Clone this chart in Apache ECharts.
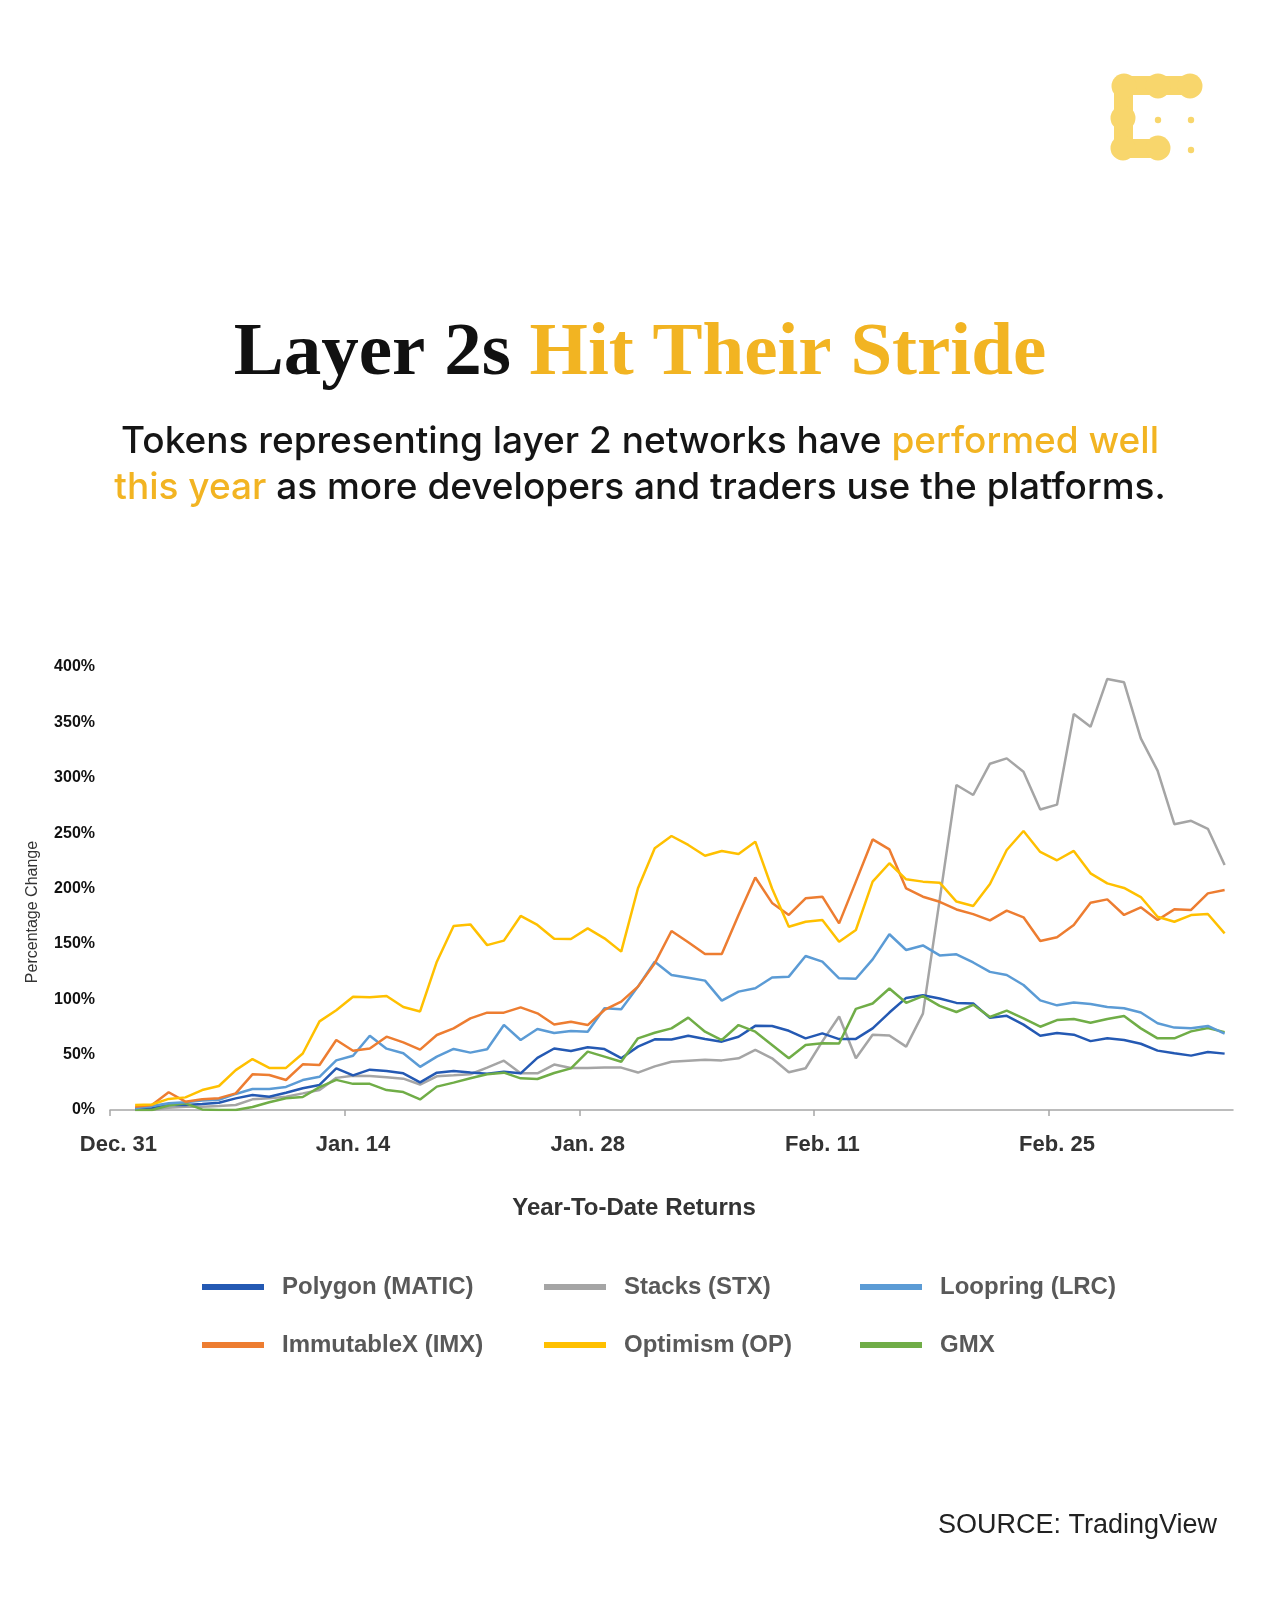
<!DOCTYPE html>
<html><head><meta charset="utf-8">
<script src="https://cdn.jsdelivr.net/npm/echarts@6/dist/echarts.min.js"></script>
<style>html,body{margin:0;padding:0;background:#fff}#c{width:1280px;height:1600px}</style>
</head><body><div id="c"></div>
<script>
const categories = ['Dec. 31',
 'Jan. 1','Jan. 2','Jan. 3','Jan. 4','Jan. 5','Jan. 6','Jan. 7','Jan. 8','Jan. 9','Jan. 10',
 'Jan. 11','Jan. 12','Jan. 13','Jan. 14','Jan. 15','Jan. 16','Jan. 17','Jan. 18','Jan. 19','Jan. 20',
 'Jan. 21','Jan. 22','Jan. 23','Jan. 24','Jan. 25','Jan. 26','Jan. 27','Jan. 28','Jan. 29','Jan. 30','Jan. 31',
 'Feb. 1','Feb. 2','Feb. 3','Feb. 4','Feb. 5','Feb. 6','Feb. 7','Feb. 8','Feb. 9','Feb. 10',
 'Feb. 11','Feb. 12','Feb. 13','Feb. 14','Feb. 15','Feb. 16','Feb. 17','Feb. 18','Feb. 19','Feb. 20',
 'Feb. 21','Feb. 22','Feb. 23','Feb. 24','Feb. 25','Feb. 26','Feb. 27','Feb. 28',
 'Mar. 1','Mar. 2','Mar. 3','Mar. 4','Mar. 5','Mar. 6','Mar. 7'];
const tickLabels = ['Dec. 31','Jan. 14','Jan. 28','Feb. 11','Feb. 25'];
const seriesNames = ['Polygon (MATIC)','Stacks (STX)','Loopring (LRC)','ImmutableX (IMX)','Optimism (OP)','GMX'];

const polygonMATIC = [null, 0.6,1.5,4.5,4.5,5.4,6.6,10.5,13.5,12,15.6, 19.6,22.6,37.6,31.3,36.4,35.3,33.1,25,33.7,35.3,
 33.8,32.7,34.6,33.1,47,55.5,53.2,56.6,55,46.8, 57.2,63.8,63.6,67,64.2,61.7,66.2,76,75.8,71.5,
 64.7,69.2,64,64.2,73.7,88,101.2,103.7,100.7,96.7, 96.2,83.2,85,77.1,67,69.5,68,62.2,64.7,63.2,
 59.8,53.6,51.2,49.1,52.4,50.9];
const stacksSTX = [null, 0,0,2.1,3,3,3.6,4.5,9.6,10.5,12, 15,18.1,29,31,30.7,29.5,28.3,23,30.4,31.3,
 32.3,38.3,44.5,33.1,33.1,41,38,38,38.3,38.3, 33.8,39.4,43.6,44.5,45.4,44.8,46.7,54.2,46.7,34.1,
 37.7,62,84.4,46.7,68,67.2,57.2,87,190,293.5, 284.4,312.7,317.5,305.5,271.3,275.7,357.6,346,389.2,386.2,
 335.6,306.5,258.1,261.1,253.9,221.2];
const loopringLRC = [null, 1.5,3.7,6,7,8.5,9.3,14.5,19,19,20.8, 27,30,44.8,49,67.1,55.4,51.2,39,48.2,55.1,
 51.8,54.8,76.8,63.2,73.1,69.5,71.3,70.7,91.8,90.9, 111.4,133.9,121.9,119.5,116.8,98.8,106.9,109.9,119.6,120.4,
 139.1,134,118.9,118.5,136,158.7,144.5,148.6,139.6,140.6, 133.2,124.7,121.9,112.9,99,94.5,97,95.8,93,91.9,
 88,78.3,74.4,73.8,75.9,69];
const immutableIMX = [null, 3,4.5,16,7.5,9.7,10.7,15,32.2,31.6,27.1, 41.2,40.6,63.2,53.5,55.5,66.2,61,54.5,67.7,73.7,
 82.7,87.9,87.9,92.7,87.3,77.2,79.7,76.7,90.3,97.8, 111.4,132.4,161.6,151.4,140.9,140.9,176,209.9,187,176.1,
 191.1,192.6,168.5,206.2,244.3,235.3,200.1,192.6,188,181.1, 176.9,171.2,180,174,152.6,155.9,167,187.2,190.2,176.1,
 183,171.6,181.2,180.6,195.6,198.6];
const optimismOP = [null, 4.5,5,10,11.4,18,21.7,36,46,38,38, 51,80,90,102.2,101.7,103,93,89,133.9,166.1,
 167.6,148.9,152.9,175.2,167.1,154.6,154.4,164,155,143, 200.2,236.3,247.4,239.3,229.6,233.9,231.2,242.3,200,165.5,
 170,171.5,152,162.5,206.2,222.8,208.3,206.2,205.3,188.2, 184.2,204,234.8,251.9,233,225.5,233.9,213.7,204.6,200.5,
 192.3,174.5,170,176,177,159.5];
const gmxGMX = [null, 0,0,4,6,0.5,0,0,2.7,7,10.6, 11.7,20.6,27.2,23.6,23.6,18,16.2,9.5,21.1,24.7,
 28.6,32.2,33.7,28.6,28,33.4,37.6,52.7,48.2,43.6, 64.7,69.8,73.7,83.4,70.7,63.2,76.7,70.7,58.7,46.7,
 58.7,60.2,60,91.3,96.2,109.7,96.8,102.8,94,88.5, 95,84,89.7,82.7,75.2,81.2,82.2,78.8,82.2,84.8,
 73.7,64.7,64.7,71,74,70.3];

const seriesData = [polygonMATIC, stacksSTX, loopringLRC, immutableIMX, optimismOP, gmxGMX];
const seriesColors = ['#2459B3','#A5A5A5','#5B9BD5','#ED7D31','#FFC000','#70AD47'];
const drawOrder = [1, 0, 5, 2, 3, 4];

const chart = echarts.init(document.getElementById('c'), null, {renderer:'canvas'});
const isTick = (i, v) => tickLabels.indexOf(v === undefined ? categories[i] : v) >= 0;
const tickBoundaries = tickLabels.map(l => categories.indexOf(l));
const SANS = '"Liberation Sans", Arial, sans-serif';

const legendPos = [[202,1275],[544,1275],[860,1275],[202,1333],[544,1333],[860,1333]];
const legends = seriesNames.map((n, i) => ({
  data: [n], left: legendPos[i][0], top: legendPos[i][1], padding: 0,
  icon: 'rect', itemWidth: 62, itemHeight: 6, selectedMode: false,
  textStyle: {fontFamily: SANS, fontSize: 24, fontWeight: 'bold', color: '#595959', padding: [0,0,0,13]}
}));

const logoFill = '#F8D66C';
const logo = {
  type: 'group', children: [
    {type:'rect', shape:{x:1124, y:76, width:66, height:19}, style:{fill:logoFill}},
    {type:'rect', shape:{x:1114, y:86, width:19, height:62}, style:{fill:logoFill}},
    {type:'rect', shape:{x:1123, y:139, width:35, height:19}, style:{fill:logoFill}},
    {type:'circle', shape:{cx:1124, cy:86, r:12.5}, style:{fill:logoFill}},
    {type:'circle', shape:{cx:1158, cy:86, r:12.5}, style:{fill:logoFill}},
    {type:'circle', shape:{cx:1190, cy:86, r:12.5}, style:{fill:logoFill}},
    {type:'circle', shape:{cx:1123, cy:118, r:12.5}, style:{fill:logoFill}},
    {type:'circle', shape:{cx:1123, cy:148, r:12.5}, style:{fill:logoFill}},
    {type:'circle', shape:{cx:1158, cy:148, r:12.5}, style:{fill:logoFill}},
    {type:'circle', shape:{cx:1158, cy:120, r:3.2}, style:{fill:logoFill}},
    {type:'circle', shape:{cx:1191, cy:120, r:3.2}, style:{fill:logoFill}},
    {type:'circle', shape:{cx:1191, cy:150, r:3.2}, style:{fill:logoFill}}
  ]
};

const option = {
  backgroundColor: '#ffffff',
  animation: false,
  grid: {left: 110, right: 47, top: 667, bottom: 490, containLabel: false},
  xAxis: [{
    type: 'category', data: categories, boundaryGap: true,
    axisLine: {show: true, lineStyle: {color: '#A6A6A6', width: 1.5}},
    axisTick: {show: false},
    axisLabel: {interval: isTick, margin: 24, fontFamily: SANS, fontSize: 22, fontWeight: 'bold', color: '#333333'},
    splitLine: {show: false}
  }, {
    type: 'value', position: 'bottom', min: 0, max: categories.length, interval: 14,
    axisLine: {show: false}, axisLabel: {show: false}, splitLine: {show: false},
    axisTick: {show: true, length: 6, customValues: tickBoundaries, lineStyle: {color: '#A6A6A6', width: 1.5}}
  }],
  yAxis: {
    type: 'value', min: 0, max: 400, interval: 50,
    axisLine: {show: false}, axisTick: {show: false}, splitLine: {show: false},
    axisLabel: {margin: 15, formatter: v => v + '%', fontFamily: SANS, fontSize: 16, fontWeight: 'bold', color: '#111111'}
  },
  legend: legends,
  series: drawOrder.map(i => ({
    name: seriesNames[i], type: 'line', data: seriesData[i], color: seriesColors[i], xAxisIndex: 0,
    symbol: 'none', showSymbol: false, smooth: false,
    lineStyle: {width: 2.5, color: seriesColors[i]}, itemStyle: {color: seriesColors[i]}
  })),
  graphic: [
    logo,
    {type:'text', x:640, y:355, style:{
      text:'{a|Layer 2s }{b|Hit Their Stride}', align:'center', verticalAlign:'middle',
      font:'bold 75px "Liberation Serif", serif',
      rich:{a:{fill:'#111111', font:'bold 75px "Liberation Serif", serif'}, b:{fill:'#F2B422', font:'bold 75px "Liberation Serif", serif'}}
    }},
    {type:'text', x:640, y:442, style:{
      text:'{k|Tokens representing layer 2 networks have }{y|performed well}', align:'center', verticalAlign:'middle',
      font:'500 37px Inter, sans-serif',
      rich:{k:{fill:'#151515', font:'500 37px Inter, sans-serif'}, y:{fill:'#F2B422', font:'500 37px Inter, sans-serif'}}
    }},
    {type:'text', x:640, y:488, style:{
      text:'{y|this year}{k| as more developers and traders use the platforms.}', align:'center', verticalAlign:'middle',
      font:'500 37px Inter, sans-serif',
      rich:{k:{fill:'#151515', font:'500 37px Inter, sans-serif'}, y:{fill:'#F2B422', font:'500 37px Inter, sans-serif'}}
    }},
    {type:'text', x:33, y:912, rotation: Math.PI/2, style:{
      text:'Percentage Change', align:'center', verticalAlign:'middle',
      font:'16px "Liberation Sans", Arial, sans-serif', fill:'#333333'
    }},
    {type:'text', x:634, y:1208, style:{
      text:'Year-To-Date Returns', align:'center', verticalAlign:'middle',
      font:'bold 24px "Liberation Sans", Arial, sans-serif', fill:'#333333'
    }},
    {type:'text', x:1217, y:1526, style:{
      text:'SOURCE: TradingView', align:'right', verticalAlign:'middle',
      font:'27px "Liberation Sans", Arial, sans-serif', fill:'#222222'
    }}
  ]
};
chart.setOption(option);
</script>
</body></html>
